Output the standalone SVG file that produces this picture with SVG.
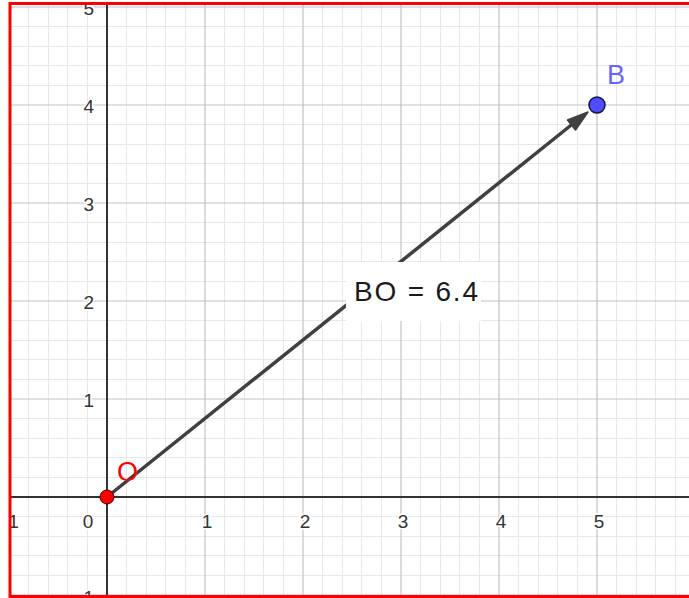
<svg xmlns="http://www.w3.org/2000/svg" width="689" height="598" viewBox="0 0 689 598">
<style>
.minor{stroke:#e8e8e8;stroke-width:1;fill:none}
.major{stroke:#c4c4c4;stroke-width:1.2;fill:none}
.axis{stroke:#333333;stroke-width:2;fill:none}
.tick{font-family:"Liberation Sans",Arial,sans-serif;font-size:19px;fill:#333333;stroke:#ffffff;stroke-width:3;paint-order:stroke;stroke-linejoin:round}
.ptlabel{font-family:"Liberation Sans",Arial,sans-serif;font-size:27px}
</style>
<defs>
<clipPath id="frame"><rect x="10" y="3" width="690" height="594"/></clipPath>
</defs>
<rect x="0" y="0" width="689" height="598" fill="#ffffff"/>
<g id="grid" clip-path="url(#frame)">
<path class="minor" d="M28.5 0V598M48.5 0V598M67.5 0V598M87.5 0V598M126.5 0V598M146.5 0V598M165.5 0V598M185.5 0V598M224.5 0V598M244.5 0V598M263.5 0V598M283.5 0V598M322.5 0V598M342.5 0V598M361.5 0V598M381.5 0V598M420.5 0V598M440.5 0V598M459.5 0V598M479.5 0V598M518.5 0V598M538.5 0V598M557.5 0V598M577.5 0V598M616.5 0V598M636.5 0V598M655.5 0V598M675.5 0V598
M0 575.5H689M0 555.5H689M0 536.5H689M0 516.5H689M0 477.5H689M0 457.5H689M0 438.5H689M0 418.5H689M0 379.5H689M0 359.5H689M0 340.5H689M0 320.5H689M0 281.5H689M0 261.5H689M0 242.5H689M0 222.5H689M0 183.5H689M0 163.5H689M0 144.5H689M0 124.5H689M0 85.5H689M0 65.5H689M0 46.5H689M0 26.5H689"/>
<path class="major" d="M205 0V598M303 0V598M401 0V598M499 0V598M597 0V598M0 595H689M0 399H689M0 301H689M0 203H689M0 105H689M0 7H689"/>
</g>
<g id="axes" clip-path="url(#frame)">
<path class="axis" d="M107 0V598M0 497H689"/>
<g id="tick-labels">
<text class="tick" x="8" y="528" text-anchor="middle">−1</text>
<text class="tick" x="88" y="528" text-anchor="middle">0</text>
<text class="tick" x="207" y="528" text-anchor="middle">1</text>
<text class="tick" x="305" y="528" text-anchor="middle">2</text>
<text class="tick" x="403" y="528" text-anchor="middle">3</text>
<text class="tick" x="501" y="528" text-anchor="middle">4</text>
<text class="tick" x="599" y="528" text-anchor="middle">5</text>
<text class="tick" x="94" y="604" text-anchor="end">−1</text>
<text class="tick" x="94" y="407" text-anchor="end">1</text>
<text class="tick" x="94" y="309" text-anchor="end">2</text>
<text class="tick" x="94" y="211" text-anchor="end">3</text>
<text class="tick" x="94" y="113" text-anchor="end">4</text>
<text class="tick" x="94" y="15" text-anchor="end">5</text>
</g>
</g>
<g id="connectors">
<g id="vector-BO">
<line x1="107" y1="497" x2="575" y2="122" stroke="#404040" stroke-width="3.5" stroke-linecap="round"/>
<path d="M588 112 L567.5 120 L571 124.5 L575.5 130 Z" fill="#404040" stroke="#404040" stroke-width="1.5" stroke-linejoin="round"/>
</g>
<g id="label-BO">
<rect x="346" y="262" width="135" height="59" fill="#ffffff"/>
<text x="354" y="301" font-family="'Liberation Sans',Arial,sans-serif" font-size="28" fill="#1a1a1a" textLength="124" lengthAdjust="spacing">BO = 6.4</text>
</g>
</g>
<g id="node-O">
<circle cx="107" cy="497" r="7" fill="#ff0000" stroke="#4d0000" stroke-width="1"/>
<text class="ptlabel" x="117" y="481" fill="#ff0000">O</text>
</g>
<g id="node-B">
<circle cx="597" cy="105" r="8" fill="#4d4dff" stroke="#14143c" stroke-width="1.5"/>
<text class="ptlabel" x="607" y="84" fill="#6464ff">B</text>
</g>
<rect id="border" x="10" y="3.5" width="700" height="593" fill="none" stroke="#ff0000" stroke-width="3"/>
</svg>
